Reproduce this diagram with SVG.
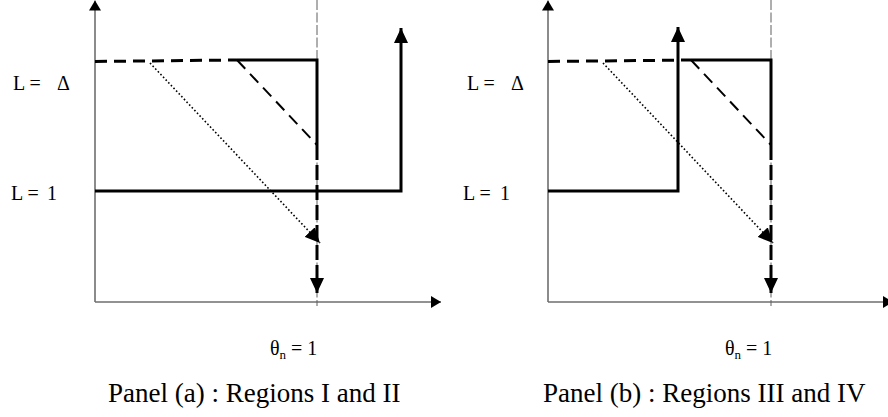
<svg xmlns="http://www.w3.org/2000/svg" width="888" height="417" viewBox="0 0 888 417">
<style>
  text { font-family: "Liberation Serif", "Times New Roman", serif; fill: #000; }
  .lbl { font-size: 20px; }
  .sub { font-size: 13px; }
  .cap { font-size: 27px; }
  .axis { stroke: #6e6e6e; stroke-width: 1.6; fill: none; }
  .guide { stroke: #5e5e5e; stroke-width: 1; stroke-dasharray: 10 2.5; fill: none; }
  .solid { stroke: #000; stroke-width: 3; fill: none; }
  .dashH { stroke: #000; stroke-width: 3; stroke-dasharray: 12 7; fill: none; }
  .dashD { stroke: #000; stroke-width: 2; stroke-dasharray: 12 7; fill: none; }
  .dashV { stroke: #000; stroke-width: 3; stroke-dasharray: 15 5; fill: none; }
  .dot { stroke: #000; stroke-width: 1.6; stroke-dasharray: 1.6 2.2; fill: none; }
</style>
<defs>
  <marker id="ah" markerUnits="userSpaceOnUse" viewBox="0 0 15 14" refX="15" refY="7" markerWidth="15" markerHeight="14" orient="auto">
    <path d="M0,0 L15,7 L0,14 Z" fill="#000"/>
  </marker>
  <marker id="ax" markerUnits="userSpaceOnUse" viewBox="0 0 10 12" refX="10" refY="6" markerWidth="10" markerHeight="12" orient="auto">
    <path d="M0,0 L10,6 L0,12 Z" fill="#000"/>
  </marker>
</defs>

<g id="panel-a">
  <g id="a-axes">
    <line class="axis" x1="95" y1="302" x2="95" y2="0.5" marker-end="url(#ax)"/>
    <line class="axis" x1="95" y1="302" x2="441" y2="302" marker-end="url(#ax)"/>
    <line class="guide" x1="317" y1="0" x2="317" y2="306"/>
  </g>
  <g id="a-connectors">
    <line class="dashH" x1="95" y1="61.5" x2="237" y2="60"/>
    <polyline class="solid" points="237,60 317,60 317,145"/>
    <line class="dashD" x1="237" y1="60" x2="317" y2="145"/>
    <line class="dashV" x1="317" y1="145" x2="317" y2="293" marker-end="url(#ah)"/>
    <line class="dot" x1="150" y1="63" x2="320" y2="243" marker-end="url(#ah)"/>
    <polyline class="solid" points="95,191 401,191 401,28" marker-end="url(#ah)"/>
  </g>
  <g id="a-labels">
    <text class="lbl" x="13" y="90">L =</text>
    <text class="lbl" x="57" y="90">Δ</text>
    <text class="lbl" x="11" y="200">L =</text>
    <text class="lbl" x="47" y="200">1</text>
    <text class="lbl" x="270" y="355">θ<tspan class="sub" dy="4">n</tspan><tspan dy="-4"> = 1</tspan></text>
    <text class="cap" x="108" y="402">Panel (a) : Regions I and II</text>
  </g>
</g>

<g id="panel-b">
  <g id="b-axes">
    <line class="axis" x1="548" y1="302" x2="548" y2="0.5" marker-end="url(#ax)"/>
    <line class="axis" x1="548" y1="302" x2="893" y2="302" marker-end="url(#ax)"/>
    <line class="guide" x1="771" y1="0" x2="771" y2="306"/>
  </g>
  <g id="b-connectors">
    <line class="dashH" x1="548" y1="61.5" x2="691" y2="60"/>
    <polyline class="solid" points="691,60 771,60 771,145"/>
    <line class="dashD" x1="691" y1="60" x2="771" y2="145"/>
    <line class="dashV" x1="771" y1="145" x2="771" y2="293" marker-end="url(#ah)"/>
    <line class="dot" x1="603" y1="63" x2="773" y2="243" marker-end="url(#ah)"/>
    <polyline class="solid" points="548,191 678,191 678,27" marker-end="url(#ah)"/>
  </g>
  <g id="b-labels">
    <text class="lbl" x="467" y="90">L =</text>
    <text class="lbl" x="511" y="90">Δ</text>
    <text class="lbl" x="463" y="200">L =</text>
    <text class="lbl" x="500" y="200">1</text>
    <text class="lbl" x="725" y="355">θ<tspan class="sub" dy="4">n</tspan><tspan dy="-4"> = 1</tspan></text>
    <text class="cap" x="543" y="402">Panel (b) : Regions III and IV</text>
  </g>
</g>
</svg>
